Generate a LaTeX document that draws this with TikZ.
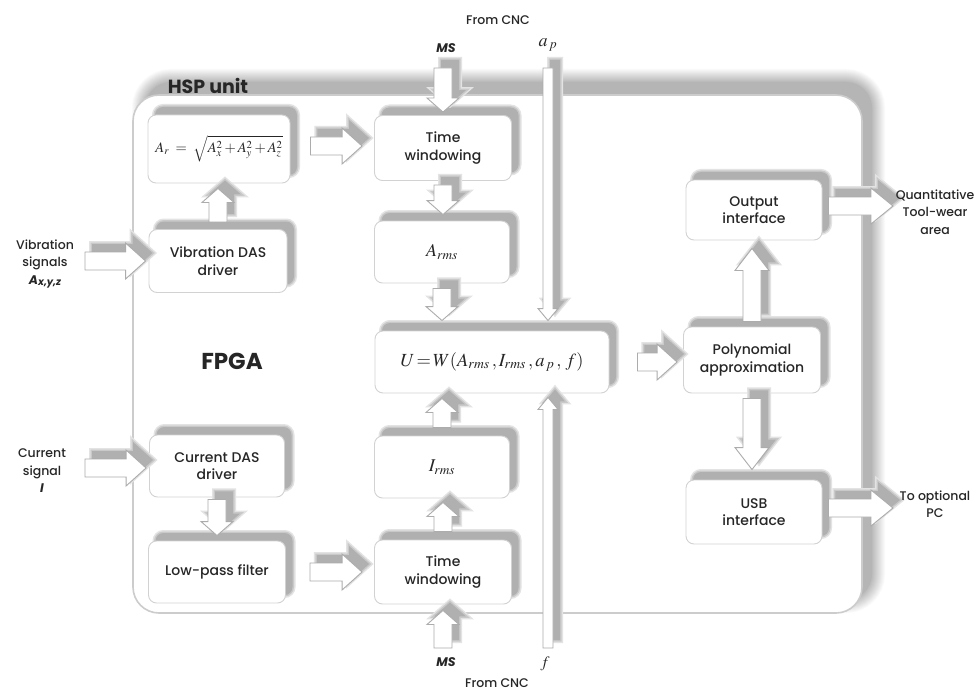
\documentclass[tikz,border=0pt]{standalone}
\usepackage{mathptmx}
\usepackage[no-math]{fontspec}
\newfontfamily\gf{Poppins}[UprightFont={* Medium}, ItalicFont={* Medium Italic}, BoldFont={* Bold}, BoldItalicFont={* Bold Italic}]
\usetikzlibrary{calc}
\tikzset{
  shd/.style={
    preaction={draw=gray!22,line width=6pt,transform canvas={xshift=7pt,yshift=8pt}},
    preaction={draw=gray!42,line width=3pt,transform canvas={xshift=7pt,yshift=8pt}},
    preaction={fill=gray!62,transform canvas={xshift=7pt,yshift=8pt}}},
  box/.style={shd, draw=gray!35, line width=0.9pt, fill=white, rounded corners=8pt,
    align=center, inner sep=2pt, text=black!85, font=\gf\fontsize{14}{17.5}\selectfont},
  sz/.style 2 args={minimum width=#1pt, minimum height=#2pt},
  bar/.style={shd, draw=gray!65, fill=white, line width=0.9pt, line join=miter},
  lbl/.style={align=center, inner sep=0pt, text=black!85, font=\gf\fontsize{12.5}{17.5}\selectfont},
  frm/.style={font=\fontsize{#1}{#1}\selectfont}
}
% right-pointing block arrow: start, tip, shaft half, head half, head length
\newcommand\arrR[5]{\path[bar] let \p1=#1, \p2=#2 in
  ({\x1},{\y1-#3pt}) -- ({\x2-#5pt},{\y1-#3pt}) -- ({\x2-#5pt},{\y1-#4pt}) -- ({\x2},{\y1})
  -- ({\x2-#5pt},{\y1+#4pt}) -- ({\x2-#5pt},{\y1+#3pt}) -- ({\x1},{\y1+#3pt}) -- cycle;}
% down-pointing
\newcommand\arrD[5]{\path[bar] let \p1=#1, \p2=#2 in
  ({\x1-#3pt},{\y1}) -- ({\x1-#3pt},{\y2+#5pt}) -- ({\x1-#4pt},{\y2+#5pt}) -- ({\x1},{\y2})
  -- ({\x1+#4pt},{\y2+#5pt}) -- ({\x1+#3pt},{\y2+#5pt}) -- ({\x1+#3pt},{\y1}) -- cycle;}
% up-pointing
\newcommand\arrU[5]{\path[bar] let \p1=#1, \p2=#2 in
  ({\x1-#3pt},{\y1}) -- ({\x1-#3pt},{\y2-#5pt}) -- ({\x1-#4pt},{\y2-#5pt}) -- ({\x1},{\y2})
  -- ({\x1+#4pt},{\y2-#5pt}) -- ({\x1+#3pt},{\y2-#5pt}) -- ({\x1+#3pt},{\y1}) -- cycle;}
\begin{document}
\begin{tikzpicture}[x=1pt,y=-1pt]
\useasboundingbox (0,0) rectangle (980,690);
\fill[white] (0,0) rectangle (980,690);

% soft shadow of the outer HSP unit
\foreach \k in {1,...,13}{
  \pgfmathsetmacro\lw{28-2*\k}
  \pgfmathsetmacro\gv{4*\k}
  \draw[line width=\lw pt, draw=gray!\gv, rounded corners=26pt] (145,82) rectangle (872,600);
}
\fill[gray!58, rounded corners=26pt] (145,82) rectangle (872,600);
% outer HSP unit
\node[draw=gray!40, line width=1.6pt, fill=white, rounded corners=26pt,
      sz={729}{518}] (hsp) at (497.5,354) {};
\node[font=\gf\bfseries\fontsize{19}{19}\selectfont, text=black!85, inner sep=0pt] (hspl) at (208,86) {HSP unit};
\node[font=\gf\bfseries\fontsize{23}{23}\selectfont, text=black!85, inner sep=0pt] (fpga) at (232,361) {FPGA};

% boxes
\node[box, sz={142}{68}] (ar) at (219,149)
  {\fontsize{14.5}{14.5}\selectfont$A_r\;=\;\sqrt{A_x^2+A_y^2+A_z^2}$};
\node[box, sz={138}{63}] (vd) at (218,261) {Vibration DAS\\driver};
\node[box, sz={135}{62}] (cd) at (217,466) {Current DAS\\driver};
\node[box, sz={137}{62}] (lpf) at (217,572) {Low-pass filter};
\node[box, sz={137}{65}] (tw1) at (443,148) {Time\\windowing};
\node[box, sz={135}{62}] (arms) at (442,252) {\fontsize{18}{18}\selectfont$A_{rms}$};
\node[box, sz={234}{62}] (U) at (492,362)
  {\fontsize{18.5}{18.5}\selectfont$U\,{=}\,W(A_{rms}\,, I_{rms}\,, a_{\,p}\,,\, f)$};
\node[box, sz={135}{62}] (irms) at (442,467) {\fontsize{18}{18}\selectfont$I_{rms}$};
\node[box, sz={137}{64}] (tw2) at (443,572) {Time\\windowing};
\node[box, sz={137}{66}] (poly) at (752,360) {Polynomial\\approximation};
\node[box, sz={136}{60}] (out) at (754,210) {Output\\interface};
\node[box, sz={136}{64}] (usb) at (754,512) {USB\\interface};

% free ends
\coordinate (vibin) at (85,261);
\coordinate (curin) at (85,468);
\coordinate (qa) at (893,206);
\coordinate (pc) at (893,508);
\coordinate (mst) at (443,68);
\coordinate (msb) at (443,648);
\coordinate (apt) at (548,68);
\coordinate (fb) at (548,648);

% horizontal block arrows
\arrR{(vibin)}{($(vd.west)+(-3,0)$)}{9}{18}{20}
\arrR{(curin)}{($(cd.west)+(-3,0)$)}{9}{18}{20}
\arrR{($(ar.east)+(20,-3)$)}{($(tw1.west)+(-12,0)$)}{9}{18}{20}
\arrR{($(lpf.east)+(24,0)$)}{($(tw2.west)+(-12,0)$)}{9}{18}{20}
\arrR{($(U.east)+(28,0)$)}{($(poly.west)+(-6,0)$)}{9}{18}{20}
\arrR{($(out.east)+(6,-4)$)}{(qa)}{9}{18}{22}
\arrR{($(usb.east)+(6,-4)$)}{(pc)}{9}{18}{22}

% vertical block arrows
\arrD{(mst)}{($(tw1.north)+(0,-3)$)}{9}{16}{14}
\arrD{($(tw1.south)+(0,4)$)}{($(arms.north)+(0,-6)$)}{9}{16}{14}
\arrD{($(arms.south)+(0,5)$)}{($(arms.south |- U.north)+(0,-10)$)}{9}{16}{14}
\arrU{($(irms.north)+(0,-8)$)}{($(irms.north |- U.south)+(0,5)$)}{9}{16}{14}
\arrU{($(tw2.north)+(0,-8)$)}{($(irms.south)+(0,4)$)}{9}{16}{14}
\arrU{(msb)}{($(tw2.south)+(0,6)$)}{9}{16}{14}
\arrU{($(vd.north)+(0,-7)$)}{($(vd.north |- ar.south)+(0,5)$)}{9}{16}{14}
\arrD{($(cd.south)+(0,2)$)}{($(cd.south |- lpf.north)+(0,-5)$)}{9}{16}{14}
\arrU{($(poly.north)+(0,-5)$)}{($(poly.north |- out.south)+(0,8)$)}{9}{17}{22}
\arrD{($(poly.south)+(0,5)$)}{($(poly.south |- usb.north)+(0,-10)$)}{9}{17}{22}

% thin arrows from CNC
\arrD{(apt)}{($(apt |- U.north)+(0,-10)$)}{5}{10}{12}
\arrU{(fb)}{($(fb |- U.south)+(0,4)$)}{5}{10}{12}

% labels
\node[lbl] (cnct) at (498,20) {From CNC};
\node[lbl] (cncb) at (497,683) {From CNC};
\node[lbl, font=\gf\bfseries\itshape\fontsize{12.5}{12.5}\selectfont] (mstl) at (446,48) {MS};
\node[lbl, font=\gf\bfseries\itshape\fontsize{12.5}{12.5}\selectfont] (msbl) at (446,662) {MS};
\node[lbl, frm=18] (apl) at (548,45) {$a_{\,p}$};
\node[lbl, frm=16] (fl) at (545,664) {$f$};
\node[lbl] (vibl) at (45,264) {Vibration\\signals\\{\bfseries\itshape A{\fontsize{10}{10}\selectfont\raisebox{-1pt}{x,y,z}}}};
\node[lbl] (curl) at (42,471) {Current\\signal\\{\bfseries\itshape I}};
\node[lbl] (qal) at (935,212) {Quantitative\\Tool-wear\\area};
\node[lbl] (pcl) at (935,504) {To optional\\PC};
\end{tikzpicture}
\end{document}
